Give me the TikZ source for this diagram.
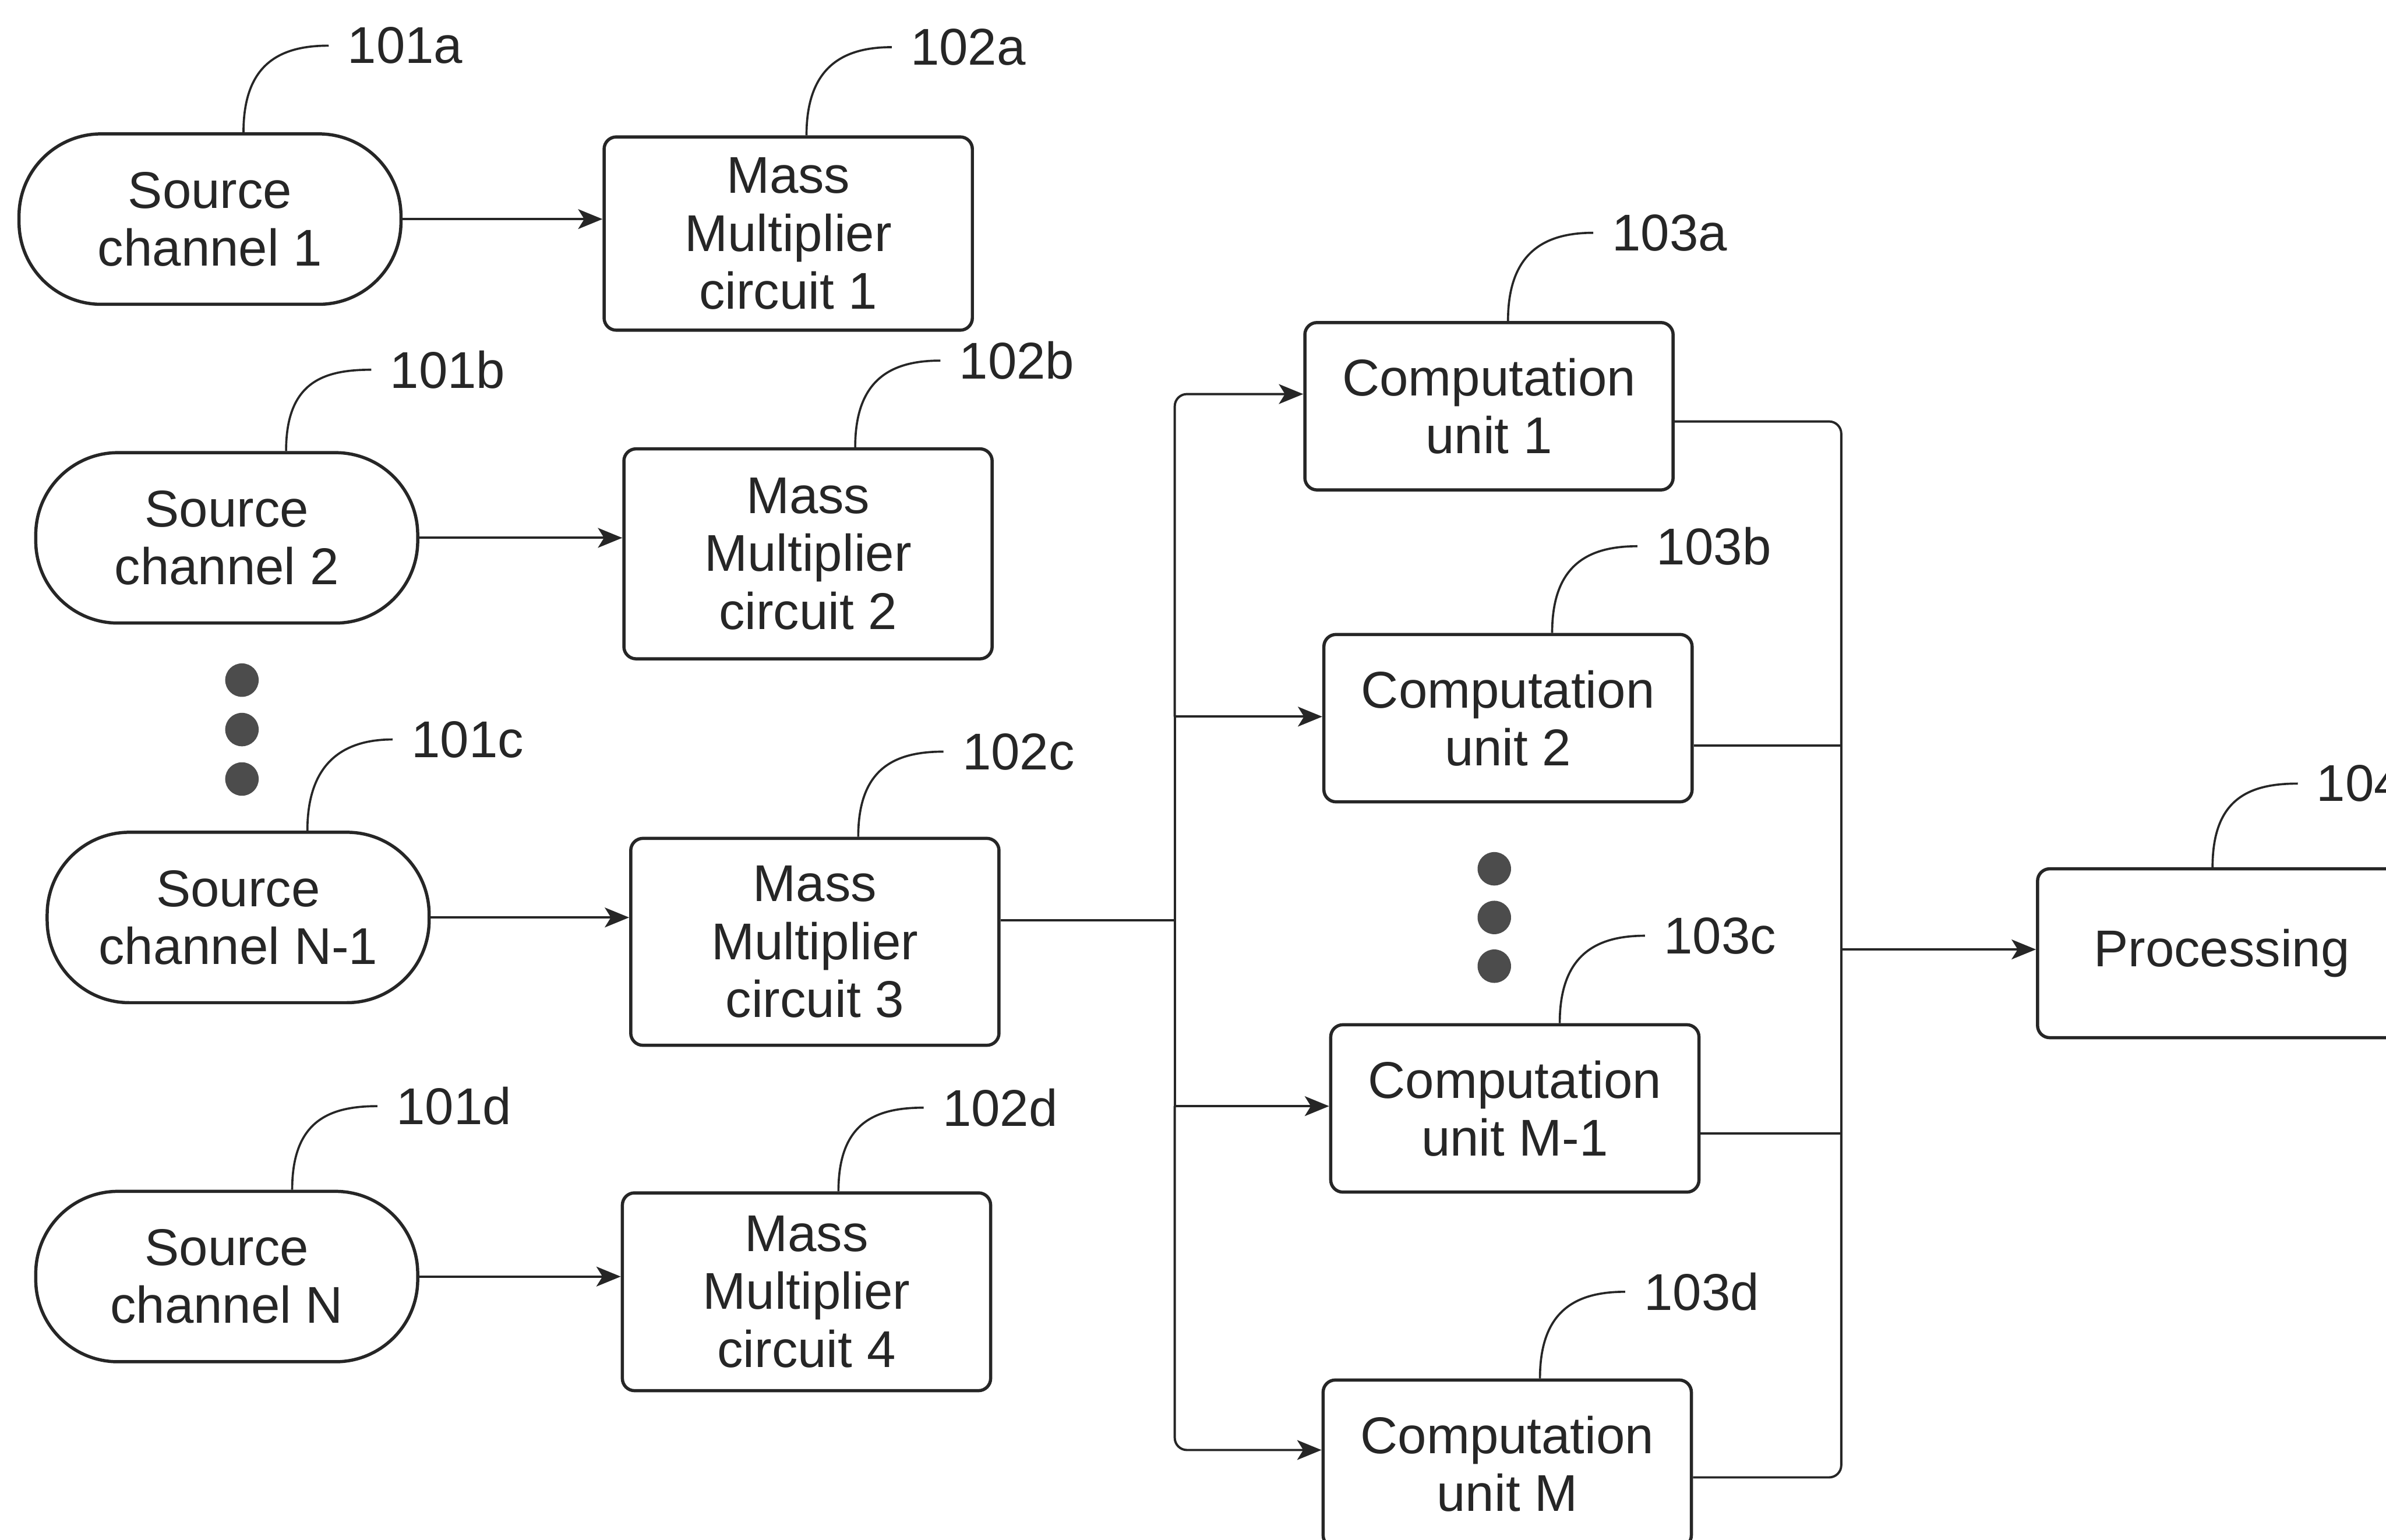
\documentclass[tikz,border=0pt]{standalone}
\usepackage{fontspec}
\setmainfont{Liberation Sans}
\usetikzlibrary{arrows.meta,calc}
\newcommand\refline[2]{%
  \coordinate (lx) at ([xshift=-34pt]#2.west);
  \coordinate (le) at ([xshift=-6pt]#2.west);
  \draw[lead] (lx |- #1.north) .. controls ($(lx |- #1.north)+(0,-45)$) and ($(le)+(-32,0)$) .. (le);}
\begin{document}
\begin{tikzpicture}[x=0.5pt,y=-0.5pt,
  box/.style={draw=black!85, line width=1.05pt, rounded corners=4pt, minimum width=121pt, align=center, text=black!85, font=\fontsize{17}{19}\selectfont, inner sep=2pt},
  src/.style={box, rounded corners=27pt, minimum width=125.5pt, minimum height=56pt},
  cubox/.style={box, minimum height=55pt},
  lab/.style={anchor=west, inner sep=0pt, text=black!85, font=\fontsize{17}{19}\selectfont},
  wire/.style={draw=black!85, line width=0.75pt},
  arr/.style={wire, -{Stealth[length=8pt,width=6.5pt,inset=2pt]}},
  lead/.style={draw=black!85, line width=0.7pt},
  dot/.style={fill=black!70},
]
\useasboundingbox (0,0) rectangle (1568,1012);
\fill[white] (0,0) rectangle (1568,1012);
\clip (0,0) rectangle (1568,1012);

% source channels
\node[src] (sc1) at (138,144) {Source\\channel 1};
\node[src] (sc2) at (149,353.5) {Source\\channel 2};
\node[src] (sc3) at (156.5,603) {Source\\channel N-1};
\node[src] (sc4) at (149,839) {Source\\channel N};

% mass multiplier circuits
\node[box, minimum height=63.5pt] (mm1) at (518,153.5) {Mass\\Multiplier\\circuit 1};
\node[box, minimum height=69pt] (mm2) at (531,364) {Mass\\Multiplier\\circuit 2};
\node[box, minimum height=68pt] (mm3) at (535.5,619) {Mass\\Multiplier\\circuit 3};
\node[box, minimum height=65pt] (mm4) at (530,849) {Mass\\Multiplier\\circuit 4};

% computation units
\node[cubox] (cu1) at (978.5,267) {Computation\\unit 1};
\node[cubox] (cu2) at (991,472) {Computation\\unit 2};
\node[cubox] (cu3) at (995.5,728.5) {Computation\\unit M-1};
\node[cubox] (cu4) at (990.5,962) {Computation\\unit M};

% processing
\node[cubox, minimum height=55.5pt] (proc) at (1460,626.5) {Processing};

% dots
\fill[dot] (159,447) circle (5.5pt);
\fill[dot] (159,479.5) circle (5.5pt);
\fill[dot] (159,512) circle (5.5pt);
\fill[dot] (982,571) circle (5.5pt);
\fill[dot] (982,603) circle (5.5pt);
\fill[dot] (982,635) circle (5.5pt);

% reference labels
\node[lab] (l101a) at (228,30) {101a};
\node[lab] (l102a) at (598,31) {102a};
\node[lab] (l101b) at (256,243) {101b};
\node[lab] (l102b) at (630,237) {102b};
\node[lab] (l101c) at (270,486) {101c};
\node[lab] (l102c) at (632,494) {102c};
\node[lab] (l101d) at (260,727) {101d};
\node[lab] (l102d) at (619,728) {102d};
\node[lab] (l103a) at (1059,153) {103a};
\node[lab] (l103b) at (1088,359) {103b};
\node[lab] (l103c) at (1093,615) {103c};
\node[lab] (l103d) at (1080,849) {103d};
\node[lab] (l104) at (1522,515) {104};

\refline{sc1}{l101a}
\refline{mm1}{l102a}
\refline{sc2}{l101b}
\refline{mm2}{l102b}
\refline{sc3}{l101c}
\refline{mm3}{l102c}
\refline{sc4}{l101d}
\refline{mm4}{l102d}
\refline{cu1}{l103a}
\refline{cu2}{l103b}
\refline{cu3}{l103c}
\refline{cu4}{l103d}
\refline{proc}{l104}

% source -> multiplier
\draw[arr] (sc1.east) -- (sc1.east -| mm1.west);
\draw[arr] (sc2.east) -- (sc2.east -| mm2.west);
\draw[arr] (sc3.east) -- (sc3.east -| mm3.west);
\draw[arr] (sc4.east) -- (sc4.east -| mm4.west);

% input bus
\coordinate (bi) at (772,605);
\coordinate (b1) at (772,259);
\coordinate (b2) at (772,471);
\coordinate (b3) at (772,727);
\coordinate (b4) at (772,953);
\draw[wire] (mm3.east |- bi) -- (bi);
\draw[wire] (b2) -- (b3);
\draw[arr, rounded corners=4pt] (b2) |- (b1 -| cu1.west);
\draw[arr] (b2) -- (b2 -| cu2.west);
\draw[arr] (b3) -- (b3 -| cu3.west);
\draw[arr, rounded corners=4pt] (b3) |- (b4 -| cu4.west);

% output bus
\coordinate (o1) at (1210,277);
\coordinate (o2) at (1210,490);
\coordinate (o3) at (1210,745);
\coordinate (o4) at (1210,971);
\coordinate (op) at (1210,624);
\draw[wire, rounded corners=4pt] (o1 -| cu1.east) -| (o2);
\draw[wire] (o2 -| cu2.east) -- (o2);
\draw[wire] (o3 -| cu3.east) -- (o3);
\draw[wire, rounded corners=4pt] (o4 -| cu4.east) -| (o3);
\draw[wire] (o2) -- (o3);
\draw[arr] (op) -- (op -| proc.west);
\end{tikzpicture}
\end{document}
